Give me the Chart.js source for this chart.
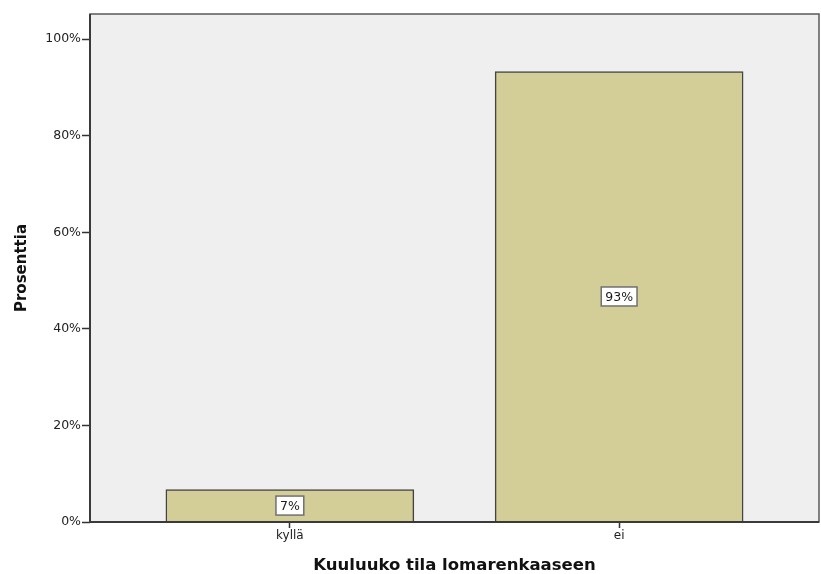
<!DOCTYPE html>
<html>
<head>
<meta charset="utf-8">
<script src="https://cdn.jsdelivr.net/npm/chart.js@4.4.1/dist/chart.umd.min.js"></script>
<style>
  html, body { margin: 0; padding: 0; background: #ffffff; }
  #wrap { width: 821px; height: 574px; }
</style>
</head>
<body>
<div id="wrap"><canvas id="c" width="821" height="574"></canvas></div>
<script>
// Categories and their percentages
const categories = ['kyllä', 'ei'];
const percentValues = [6.7, 93.3];
const percentLabels = ['7%', '93%'];
const yTickValues = [0, 20, 40, 60, 80, 100];

const xTitle = 'Kuuluuko tila lomarenkaaseen';
const yTitle = 'Prosenttia';

const FONT = '"DejaVu Sans", Arial, sans-serif';

// Plot background plus a frame round the plot area
const frame = {
  id: 'frame',
  beforeDraw(chart) {
    const { ctx, chartArea: a } = chart;
    ctx.save();
    ctx.fillStyle = '#efefef';
    ctx.fillRect(a.left, a.top, a.right - a.left, a.bottom - a.top);
    ctx.restore();
  },
  afterDatasetsDraw(chart) {
    const { ctx, chartArea: a } = chart;
    ctx.save();
    ctx.strokeStyle = '#5a5a5a';
    ctx.lineWidth = 1.5;
    ctx.strokeRect(a.left, a.top, a.right - a.left, a.bottom - a.top);
    // axis lines on the left and bottom are a little heavier
    ctx.strokeStyle = '#3a3a3a';
    ctx.lineWidth = 2;
    ctx.beginPath();
    ctx.moveTo(a.left, a.top);
    ctx.lineTo(a.left, a.bottom);
    ctx.lineTo(a.right, a.bottom);
    ctx.stroke();
    ctx.restore();
  }
};

// Boxed value labels in the middle of each bar
const valueBoxes = {
  id: 'valueBoxes',
  afterDraw(chart) {
    const { ctx } = chart;
    const meta = chart.getDatasetMeta(0);
    ctx.save();
    ctx.font = '12.5px ' + FONT;
    ctx.textAlign = 'center';
    ctx.textBaseline = 'middle';
    meta.data.forEach((bar, i) => {
      const text = percentLabels[i];
      const cx = bar.x;
      const cy = (bar.y + bar.base) / 2;
      const w = ctx.measureText(text).width + 8;
      const h = 19;
      ctx.fillStyle = '#ffffff';
      ctx.fillRect(cx - w / 2, cy - h / 2, w, h);
      ctx.strokeStyle = '#707070';
      ctx.lineWidth = 1.5;
      ctx.strokeRect(cx - w / 2, cy - h / 2, w, h);
      ctx.fillStyle = '#1a1a1a';
      ctx.fillText(text, cx, cy + 1);
    });
    ctx.restore();
  }
};

new Chart(document.getElementById('c'), {
  type: 'bar',
  data: {
    datasets: [{
      data: percentValues.map((v, i) => ({ x: i, y: v })),
      backgroundColor: '#d3ce98',
      borderColor: '#444444',
      borderWidth: 1.5,
      barThickness: 248
    }]
  },
  options: {
    responsive: false,
    animation: false,
    devicePixelRatio: 1,
    layout: { padding: { top: 14, right: 2, left: 0, bottom: 0 } },
    plugins: {
      legend: { display: false },
      tooltip: { enabled: false }
    },
    scales: {
      x: {
        type: 'linear',
        offset: false,
        min: -0.607,
        max: 1.607,
        afterBuildTicks(scale) {
          scale.ticks = categories.map((_, i) => ({ value: i }));
        },
        afterFit(scale) { scale.height = 52; },
        grid: {
          offset: false,
          drawOnChartArea: false,
          drawTicks: true,
          tickLength: 6,
          tickColor: '#333333',
          tickWidth: 1.5
        },
        border: { display: false },
        ticks: {
          autoSkip: false,
          maxRotation: 0,
          padding: 1,
          color: '#222222',
          font: { family: FONT, size: 12 },
          callback: (v) => categories[v] ?? ''
        },
        title: {
          display: true,
          text: xTitle,
          color: '#111111',
          font: { family: FONT, size: 16.5, weight: 'bold' },
          padding: { top: 9, bottom: -2 }
        }
      },
      y: {
        min: 0,
        max: 105.2,
        afterBuildTicks(scale) {
          scale.ticks = yTickValues.map(v => ({ value: v }));
        },
        afterFit(scale) { scale.width = 90; },
        grid: {
          drawOnChartArea: false,
          drawTicks: true,
          tickLength: 8,
          tickColor: '#333333',
          tickWidth: 1.5
        },
        border: { display: false },
        ticks: {
          padding: 1,
          color: '#222222',
          font: { family: FONT, size: 12.5 },
          callback: (v) => v + '%'
        },
        title: {
          display: true,
          text: yTitle,
          color: '#111111',
          font: { family: FONT, size: 15, weight: 'bold' },
          padding: { top: 13, bottom: 0 }
        }
      }
    }
  },
  plugins: [frame, valueBoxes]
});
</script>
</body>
</html>
